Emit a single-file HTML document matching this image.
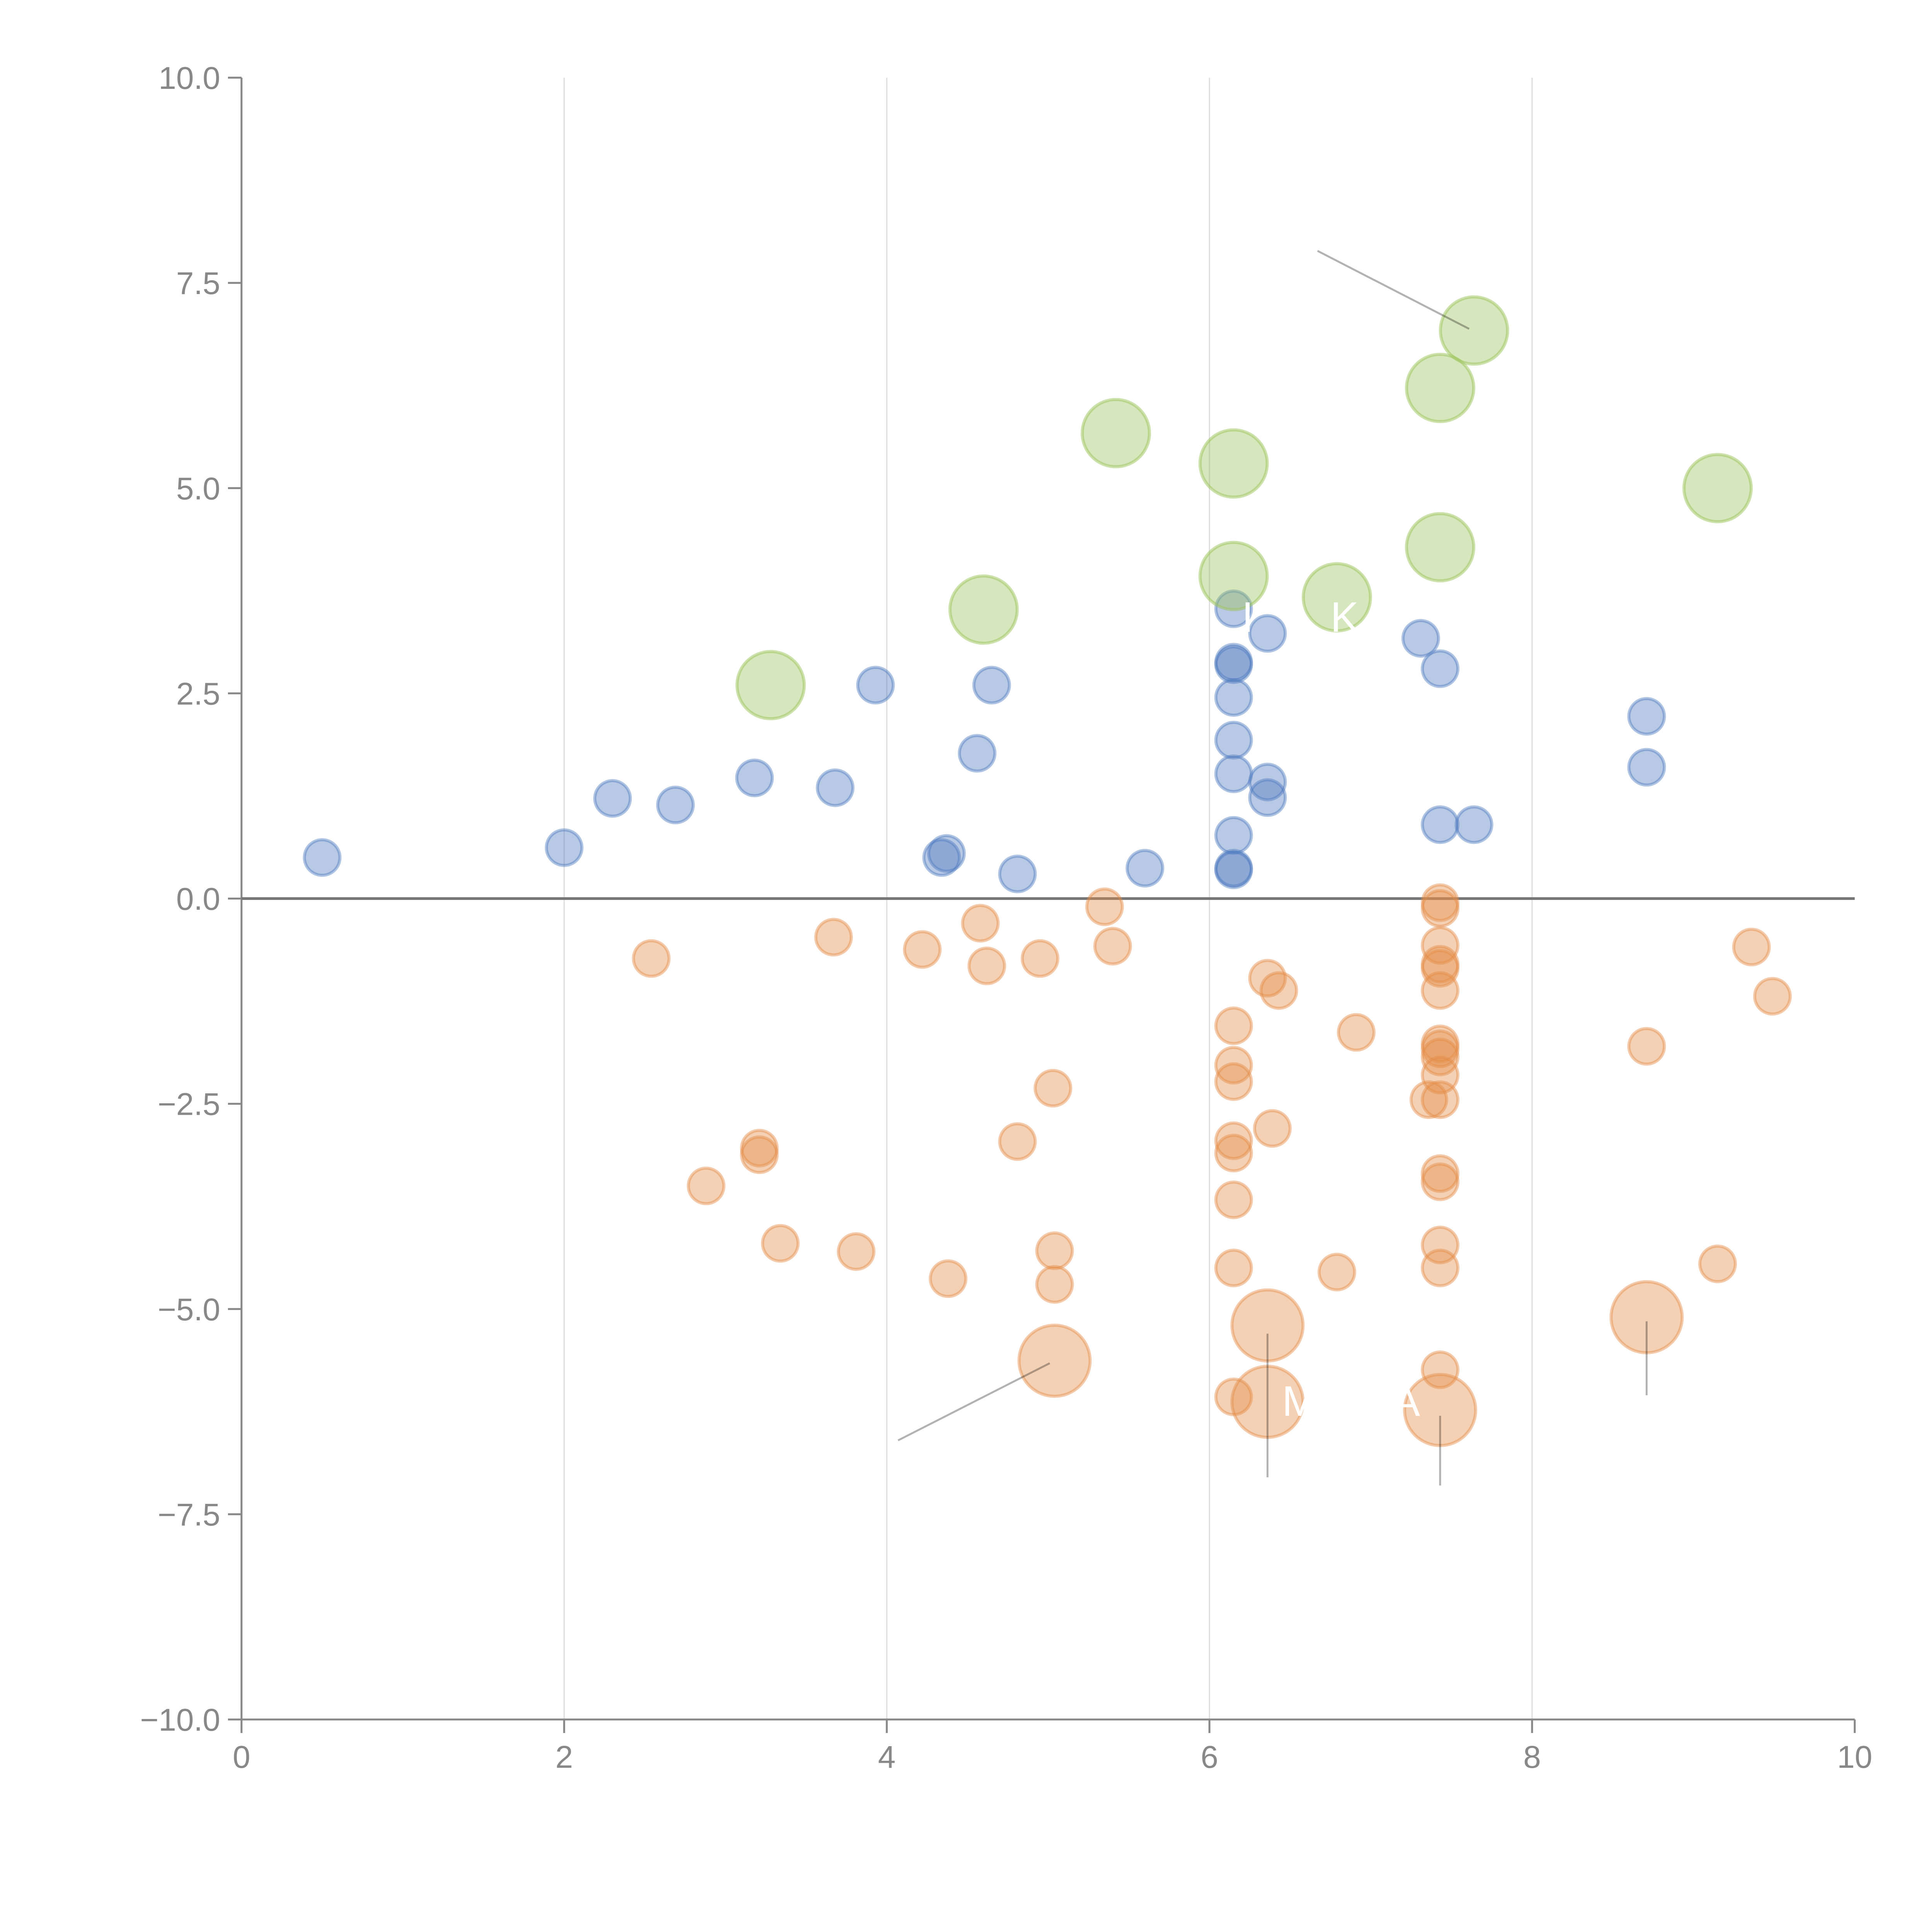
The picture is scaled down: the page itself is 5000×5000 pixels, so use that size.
<!DOCTYPE html>
<html><head><meta charset="utf-8"><style>
html,body{margin:0;padding:0;background:#fff;}
svg{display:block;font-family:"Liberation Sans",sans-serif;}
</style></head><body>
<svg id="chart" width="5000" height="5000" viewBox="0 0 5000 5000">
<g id="grid"></g>
<g id="axes"></g>
<g id="marks"></g>
<g id="notes"></g>
</svg>
<script>
const xTicks=[0,2,4,6,8,10];
const yTicks=[-10,-7.5,-5,-2.5,0,2.5,5,7.5,10];
const blueX=[0.5,2,2.3,2.69,3.18,3.68,3.93,4.65,4.56,4.34,4.37,4.81,5.6,6.15,6.36,6.15,6.15,6.15,6.15,6.15,6.36,6.36,6.15,6.15,6.15,7.31,7.43,8.71,8.71,7.43,7.64];
const blueY=[0.5,0.62,1.22,1.14,1.47,1.35,2.6,2.6,1.77,0.5,0.55,0.3,0.37,3.53,3.23,2.85,2.88,2.45,1.93,1.52,1.42,1.23,0.77,0.37,0.35,3.17,2.8,2.22,1.6,0.9,0.9];
const greenX=[3.28,4.6,5.42,6.15,6.15,6.79,7.43,7.43,7.64,9.15];
const greenY=[2.6,3.52,5.67,5.3,3.93,3.67,4.28,6.22,6.92,5.0];
const orangeX=[2.54,3.67,4.22,4.58,4.62,4.95,5.35,5.4,5.03,4.81,3.21,3.21,2.88,3.34,3.81,4.38,5.04,5.04,6.15,6.15,6.15,6.15,6.15,6.15,6.15,6.15,6.36,6.43,6.39,6.79,6.91,7.43,7.43,7.43,7.43,7.43,7.43,7.43,7.43,7.43,7.43,7.36,7.43,7.43,7.43,7.43,7.43,7.43,8.71,9.15,9.36,9.49];
const orangeY=[-0.73,-0.47,-0.62,-0.3,-0.82,-0.73,-0.1,-0.58,-2.31,-2.96,-3.04,-3.12,-3.5,-4.2,-4.3,-4.63,-4.29,-4.7,-1.55,-2.03,-2.23,-2.95,-3.1,-3.67,-4.5,-6.07,-0.97,-1.12,-2.8,-4.55,-1.63,-0.05,-0.12,-0.57,-0.8,-0.85,-1.12,-1.77,-1.83,-1.93,-2.15,-2.45,-2.45,-3.35,-3.45,-4.22,-4.5,-5.74,-1.8,-4.45,-0.59,-1.19];
const bigOrangeX=[5.04,6.36,6.36,7.43,8.71];
const bigOrangeY=[-5.63,-5.2,-6.13,-6.23,-5.1];

const NS="http://www.w3.org/2000/svg";
const X0=625,X1=4800,Y0=4450,Y1=201;
function sx(v){return X0+(v-0)/(10-0)*(X1-X0);}
function sy(v){return Y0-(v+10)/20*(Y0-Y1);}
function mk(tag,attrs,parent){const e=document.createElementNS(NS,tag);for(const k in attrs)e.setAttribute(k,attrs[k]);parent.appendChild(e);return e;}
const grid=document.getElementById('grid'),axes=document.getElementById('axes'),marks=document.getElementById('marks'),notes=document.getElementById('notes');

xTicks.forEach(t=>{
  if(t>0&&t<10){const g=mk('line',{x1:sx(t),x2:sx(t),y1:Y1,y2:Y0,stroke:'#dcdcdc','stroke-width':3},grid);
  
  }
  const tk=mk('line',{x1:sx(t),x2:sx(t),y1:Y0,y2:Y0+35,stroke:'#888','stroke-width':5},axes);
  
  
  const tx=mk('text',{x:sx(t),y:Y0+125,'text-anchor':'middle','font-size':82,fill:'#888'},axes);
  tx.textContent=String(t);
  
  
});
yTicks.forEach(t=>{
  const tk=mk('line',{x1:X0-35,x2:X0,y1:sy(t),y2:sy(t),stroke:'#888','stroke-width':5},axes);
  
  
  const tx=mk('text',{x:X0-55,y:sy(t)+29,'text-anchor':'end','font-size':82,fill:'#888'},axes);
  tx.textContent=(t<0?'\u2212':'')+Math.abs(t).toFixed(1);
  
  
});
const ya=mk('line',{x1:X0,x2:X0,y1:Y1,y2:Y0,stroke:'#888','stroke-width':5},axes);


const xa=mk('line',{x1:X0,x2:X1,y1:Y0,y2:Y0,stroke:'#888','stroke-width':5},axes);


const zl=mk('line',{x1:X0,x2:X1,y1:sy(0),y2:sy(0),stroke:'#777','stroke-width':7},axes);



function series(xs,ys,r,fill,stroke,name){
  xs.forEach((x,i)=>{
    const c=mk('circle',{cx:sx(x),cy:sy(ys[i]),r:r,fill:fill,stroke:stroke,'stroke-width':8},marks);
    
    
  });
}
series(blueX,blueY,46,'rgba(78,121,190,0.4)','rgba(78,121,190,0.45)','blue-bubble');
series(orangeX,orangeY,46,'rgba(228,140,70,0.4)','rgba(228,140,70,0.45)','orange-bubble');
series(bigOrangeX,bigOrangeY,92,'rgba(228,140,70,0.4)','rgba(228,140,70,0.45)','large-orange-bubble');
series(greenX,greenY,87,'rgba(155,195,90,0.4)','rgba(155,195,90,0.5)','green-bubble');

const leadX1=[6.67,4.07,6.36,7.43,8.71];
const leadY1=[7.89,-6.6,-5.3,-6.3,-5.15];
const leadX2=[7.61,5.01,6.36,7.43,8.71];
const leadY2=[6.94,-5.66,-7.05,-7.15,-6.05];
leadX1.forEach((x,i)=>{
  const l=mk('line',{x1:sx(x),y1:sy(leadY1[i]),x2:sx(leadX2[i]),y2:sy(leadY2[i]),stroke:'rgba(0,0,0,0.3)','stroke-width':5},notes);
  
  
});
const labTxt=['M','A','I','K'];
const labX=[6.45,7.13,6.2,6.75];
const labY=[-6.3,-6.3,3.25,3.25];
labTxt.forEach((t,i)=>{
  const e=mk('text',{x:sx(labX[i]),y:sy(labY[i]),'font-size':110,fill:'#fff'},notes);
  e.textContent=t;
  
  
});
</script>
</body></html>
